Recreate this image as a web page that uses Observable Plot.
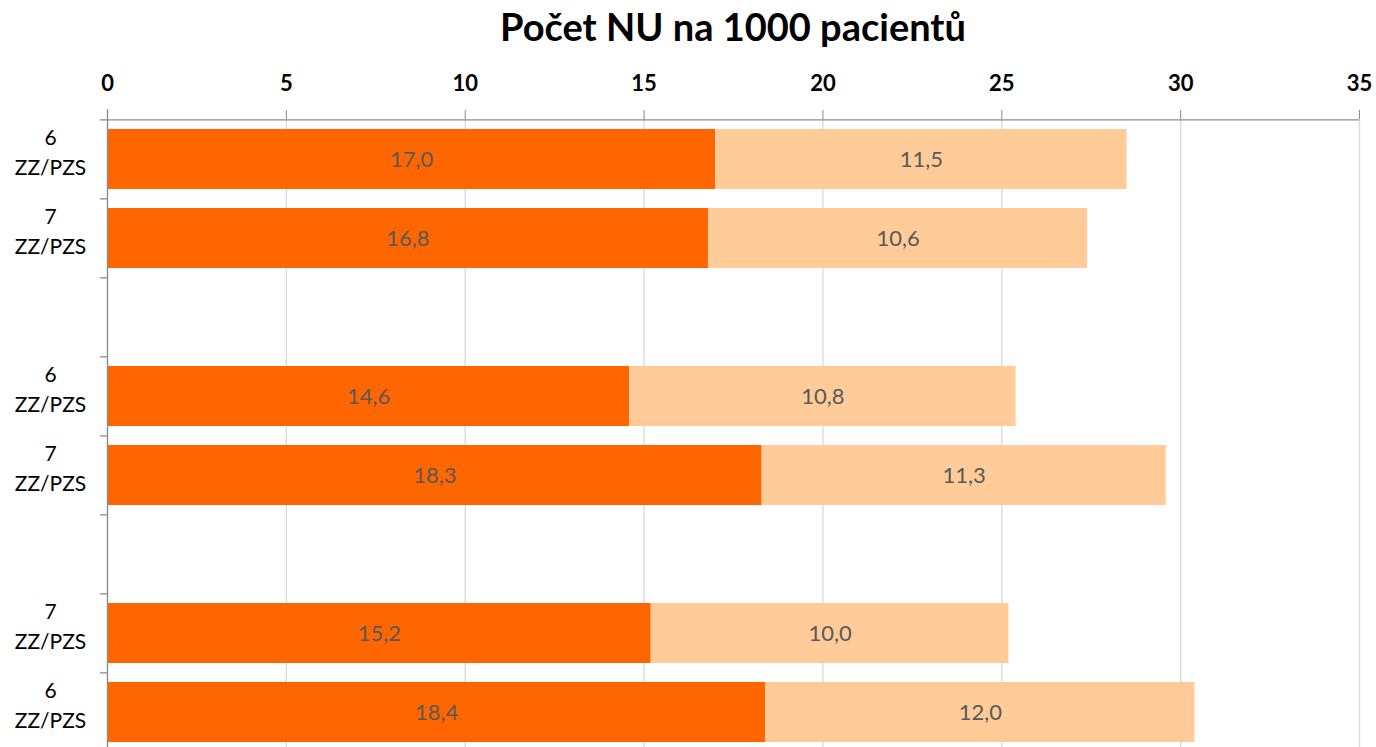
<!DOCTYPE html>
<html>
<head>
<meta charset="utf-8">
<script src="https://cdn.jsdelivr.net/npm/d3@7"></script>
<script src="https://cdn.jsdelivr.net/npm/@observablehq/plot@0.6"></script>
<style>
  html, body { margin: 0; padding: 0; background: #fff; overflow: hidden; }
  #title {
    box-sizing: border-box;
    height: 58px;
    padding-top: 2px;
    line-height: 48px;
    margin-left: 107px;
    width: 1252px;
    text-align: center;
    font-family: Lato, "Open Sans", sans-serif;
    font-weight: bold;
    font-size: 38px;
    color: #000;
  }
</style>
</head>
<body>
<div id="title">Počet NU na 1000 pacientů</div>
<div id="chart"></div>
<script>
// Data
const rowIds    = ["r1", "r2", "g1", "r3", "r4", "g2", "r5", "r6"];
const rowLabels = ["6\nZZ/PZS", "7\nZZ/PZS", "", "6\nZZ/PZS", "7\nZZ/PZS", "", "7\nZZ/PZS", "6\nZZ/PZS"];
const seriesNames = ["A", "B"];
const valuesA = [17.0, 16.8, null, 14.6, 18.3, null, 15.2, 18.4];
const valuesB = [11.5, 10.6, null, 10.8, 11.3, null, 10.0, 12.0];
const xTicks = [0, 5, 10, 15, 20, 25, 30, 35];

const table = [];
rowIds.forEach((id, i) => {
  if (valuesA[i] != null) table.push({id, series: seriesNames[0], value: valuesA[i]});
  if (valuesB[i] != null) table.push({id, series: seriesNames[1], value: valuesB[i]});
});
const labelRows = rowIds.map((id, i) => ({id, label: rowLabels[i]})).filter(d => d.label);
const fmt = v => v.toFixed(1).replace(".", ",");

const W = 1376, H = 694, MT = 60, MB = 0, ML = 107, MR = 17;
const step = (H - MT - MB) / rowIds.length;

const chart = Plot.plot({
  width: W,
  height: H,
  marginTop: MT,
  marginBottom: MB,
  marginLeft: ML,
  marginRight: MR,
  style: {fontFamily: "Lato, 'Open Sans', sans-serif", fontSize: "20px", background: "#fff"},
  x: {domain: [0, 35], axis: null},
  y: {domain: rowIds, axis: null, paddingInner: 0.243, paddingOuter: 0.1215},
  color: {domain: seriesNames, range: ["#FF6600", "#FFCC99"]},
  marks: [
    Plot.gridX(xTicks, {stroke: "#d9d9d9", strokeOpacity: 1, strokeWidth: 1.3}),
    Plot.barX(table, {y: "id", x: "value", fill: "series"}),
    Plot.text(table, Plot.stackX({y: "id", x: "value", text: d => fmt(d.value), fill: "#595959", fontSize: 22})),
    // left axis line
    Plot.ruleX([0], {stroke: "#8c8c8c", strokeWidth: 1.3, insetTop: -9}),
    // top axis line
    Plot.ruleY([rowIds[0]], {y: d => d, dy: -step / 2, stroke: "#8c8c8c", strokeWidth: 1.3}),
    // y category boundary ticks
    Plot.ruleY(rowIds, {y: d => d, x1: 0, x2: 0, insetLeft: -7, dy: -step / 2, stroke: "#8c8c8c", strokeWidth: 1.3}),
    // y labels
    Plot.text(labelRows, {y: "id", x: 0, dx: -57, dy: -9, text: "label", textAnchor: "middle", lineAnchor: "middle", lineHeight: 1.45, fill: "#000", fontSize: 21}),
    Plot.axisX(xTicks, {anchor: "top", label: null, tickSize: 9, tickPadding: 19, stroke: "#8c8c8c", fill: "#000", fontSize: 22, fontWeight: "bold", tickFormat: d => String(d)})
  ]
});
document.getElementById("chart").appendChild(chart);
</script>
</body>
</html>
